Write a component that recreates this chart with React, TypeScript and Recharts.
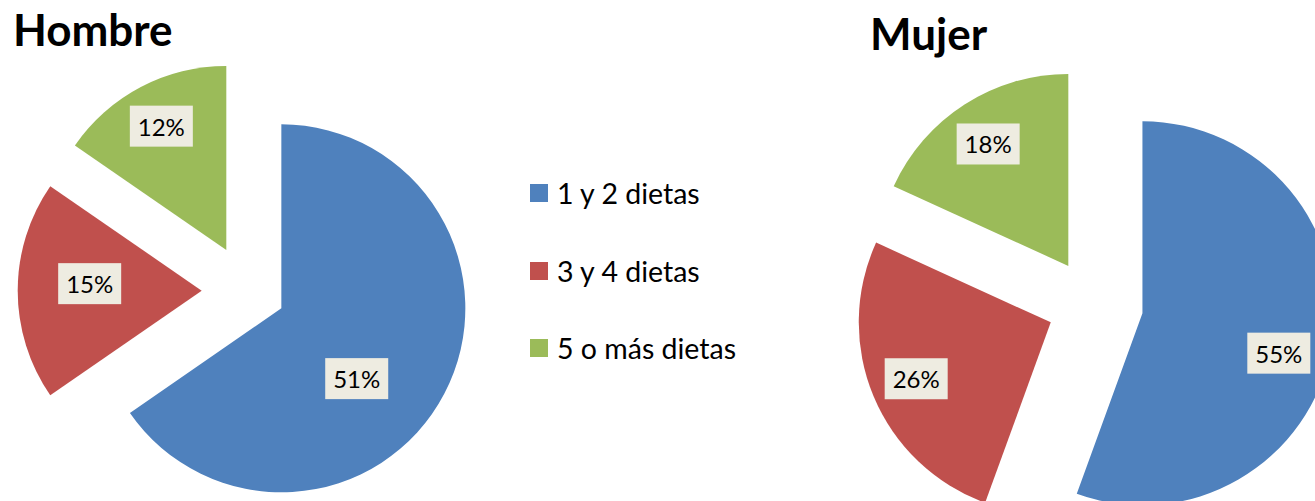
import { PieChart, Pie, Cell, Legend } from 'recharts'

const categories = ['1 y 2 dietas', '3 y 4 dietas', '5 o más dietas']
const colors = ['#4F81BD', '#C0504D', '#9BBB59']
const hombreValues = [51, 15, 12]
const mujerValues = [55, 26, 18]

const RAD = Math.PI / 180
const FONT = 'Lato, "Open Sans", sans-serif'

// mid angle of each slice, degrees clockwise from 12 o'clock
function midAngles(values: number[]) {
  const total = values.reduce((a, b) => a + b, 0)
  let acc = 0
  return values.map((v) => {
    const mid = ((acc + v / 2) / total) * 360
    acc += v
    return mid
  })
}

function labelBox(x: number, y: number, text: string) {
  return (
    <g>
      <rect x={x - 31.5} y={y - 20.5} width={63} height={41} fill="#EEECE1" />
      <text x={x} y={y + 9.5} textAnchor="middle" fontSize={24} fontFamily={FONT} fill="#000">
        {text}
      </text>
    </g>
  )
}

// one Pie per slice, each shifted out along its own bisector
function explodedPie(
  id: string,
  values: number[],
  center: [number, number],
  radius: number,
  explode: number[],
  labelPos: [number, number][],
) {
  const data = categories.map((name, i) => ({ name, value: values[i] }))
  const mids = midAngles(values)
  return data.map((_, k) => {
    const ox = center[0] + explode[k] * Math.sin(mids[k] * RAD)
    const oy = center[1] - explode[k] * Math.cos(mids[k] * RAD)
    const renderLabel = (p: any) => {
      if (p.index !== k) return null
      const [frac, shift] = labelPos[k]
      const a = (p.midAngle - shift) * RAD
      const x = ox + radius * frac * Math.cos(a)
      const y = oy - radius * frac * Math.sin(a)
      return labelBox(x, y, `${values[k]}%`)
    }
    return (
      <Pie
        key={`${id}-${k}`}
        data={data}
        dataKey="value"
        nameKey="name"
        cx={ox}
        cy={oy}
        outerRadius={radius}
        startAngle={90}
        endAngle={-270}
        stroke="none"
        isAnimationActive={false}
        labelLine={false}
        label={renderLabel}
      >
        {data.map((d, j) => (
          <Cell key={d.name} fill={j === k ? colors[j] : 'transparent'} />
        ))}
      </Pie>
    )
  })
}

function renderLegend() {
  return (
    <div style={{ position: 'relative', width: 260, height: 200, fontFamily: FONT }}>
      {categories.map((c, i) => (
        <div
          key={c}
          style={{
            position: 'absolute',
            left: 0,
            top: i * 77.5,
            height: 18,
            display: 'flex',
            alignItems: 'center',
            whiteSpace: 'nowrap',
          }}
        >
          <span style={{ width: 18, height: 18, background: colors[i], display: 'inline-block' }} />
          <span style={{ marginLeft: 9, fontSize: 28.5, lineHeight: '18px', color: '#000' }}>{c}</span>
        </div>
      ))}
    </div>
  )
}

export default function App() {
  return (
    <div style={{ position: 'absolute', left: 0, top: 0, width: 1315, height: 501, background: '#fff', overflow: 'hidden' }}>
      <PieChart width={1315} height={501} margin={{ top: 0, right: 0, bottom: 0, left: 0 }}>
        {explodedPie('h', hombreValues, [247.7, 290.7], 184, [38, 46, 46], [
          [0.56, 15.3],
          [0.61, 3.6],
          [0.76, 0],
        ])}
        {explodedPie('m', mujerValues, [1093.2, 304.6], 192, [50, 46, 46], [
          [0.74, 6.3],
          [0.76, 0],
          [0.76, -0.6],
        ])}
        <Legend
          layout="vertical"
          align="center"
          verticalAlign="middle"
          content={renderLegend}
          wrapperStyle={{ left: 530, top: 184, width: 260, height: 200 }}
        />
      </PieChart>
      <div style={{ position: 'absolute', left: 13, top: 7, fontFamily: FONT, fontWeight: 700, fontSize: 44, lineHeight: '44px' }}>
        Hombre
      </div>
      <div style={{ position: 'absolute', left: 870, top: 10.5, fontFamily: FONT, fontWeight: 700, fontSize: 44, lineHeight: '44px' }}>
        Mujer
      </div>
    </div>
  )
}
